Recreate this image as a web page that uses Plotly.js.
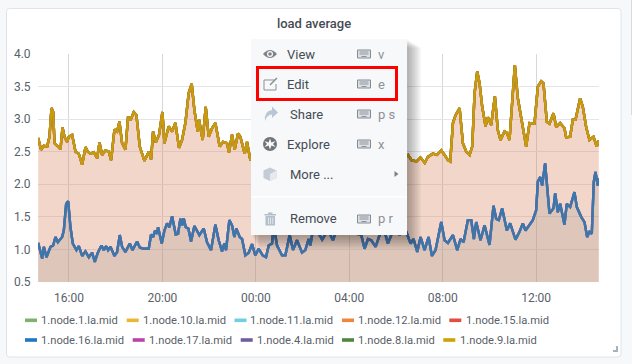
<!DOCTYPE html>
<html>
<head>
<meta charset="utf-8">
<script src="https://cdn.plot.ly/plotly-3.0.1.min.js"></script>
<style>html,body{margin:0;padding:0;background:#f7f8fa;overflow:hidden}#chart{width:632px;height:364px}</style>
</head>
<body>
<div id="chart"></div>
<script>
// ---- data ----
const chartTitle = "load average";
const upperMinutes = [0.4,8,15,23.5,29.5,34.7,39,42.4,51,57.8,62.9,68,74.8,79.2,87.7,96.3,104.8,113.4,121.9,127.9,134.8,143.3,151.9,157.9,164.7,173.3,181.8,187.8,196.4,203.2,209.2,216,224.6,231.4,237.4,246,252.8,261.4,273.4,284.5,290.5,295.6,302.5,311,319.6,324.7,335.8,344.4,352.9,362.3,370,378.6,387.1,394.8,401.7,410.2,413.6,423,430.8,438.5,447,455.6,466.7,475.3,485.5,490.7,498.4,505.2,513.8,519.8,530.9,536.9,545.5,560,580,600,620,640,660,680,700,720,740,760,780,800,820,840,860,880,900,920,940,950.7,959.3,972.1,982.4,993.5,1001.5,1014.3,1024.6,1035.8,1044.3,1052.9,1058.9,1065.8,1072.6,1082.9,1091.4,1100,1108.5,1115.4,1121.4,1128.2,1134.2,1141,1149.6,1155.6,1164.1,1173.5,1181.2,1188,1198.3,1204.3,1211.1,1224.8,1232.5,1241.1,1253.9,1262.5,1275.3,1283.9,1292.5,1298.4,1307,1313.8,1324.1,1331,1341.2,1352.3,1356.6,1366.9,1373.7,1380.6,1392.6,1399.4,1408,1416.5,1426.8,1435.3,1440.4];
const upperLoad = [2.71,2.53,2.59,2.58,2.73,3.17,3.11,2.63,2.58,2.54,2.87,2.73,2.65,2.73,2.76,2.50,2.47,2.30,2.57,2.50,2.47,2.49,2.40,2.64,2.45,2.52,2.50,2.37,2.84,2.81,2.96,2.63,2.53,3.04,2.98,3.11,3.06,2.58,2.36,2.50,2.38,2.81,2.64,2.76,3.11,2.63,2.89,2.81,2.94,2.56,2.68,2.94,3.40,3.54,3.14,2.81,2.99,2.68,3.19,2.73,2.86,2.94,2.58,2.65,2.63,2.49,2.76,2.53,2.78,2.73,2.47,2.65,2.37,2.45,2.6,2.5,2.7,2.5,2.55,2.65,2.45,2.6,2.5,2.55,2.45,2.6,2.5,2.55,2.4,2.5,2.45,2.55,2.4,2.45,2.37,2.35,2.41,2.33,2.42,2.47,2.45,2.52,2.45,2.37,2.35,2.94,3.06,3.17,2.63,2.50,2.45,2.58,3.40,3.73,3.55,3.19,2.89,3.03,2.91,3.35,2.83,2.68,2.81,2.79,2.68,3.83,3.32,3.04,2.58,2.94,2.93,3.50,3.58,3.55,2.96,2.93,3.09,2.88,2.94,2.86,2.72,2.73,2.99,2.99,3.32,3.19,2.88,2.68,2.73,2.58,2.67];
const lowerMinutes = [0.4,10.7,15,21.8,32.1,38.9,44.9,50.9,62,66.3,72.3,77.4,83.4,89.4,98.8,104.8,113.4,121.9,130.5,139,145.9,153.6,163,169,175,180.1,186.1,196.4,203.2,210,216,224.6,235.7,242.6,254.5,261.4,271.6,284.5,290.5,295.6,300.8,305.9,308.4,317.9,324.7,331.5,337.5,344.4,353.8,359.8,365.8,370.9,374.3,379.5,386.3,393.1,401.7,408.5,414.5,425.6,434.2,444.5,455.6,464.1,472.7,478.7,483,491.5,498.4,504.4,509.5,518.1,524.1,532.6,541.2,549.7,558.3,566.9,577.1,585.7,592.6,601.1,605.4,614,626.8,635.4,646.5,655,665.3,678.2,686.7,695.3,699.5,705.5,715,730,745,757.6,770,785,800,815,830.4,838.9,847.5,856.1,867.2,877.4,886,898.8,907.4,917.6,928.7,937.3,945.9,957,964.7,974.1,982.7,993,1003.2,1011.8,1021.2,1035.8,1044.3,1052.9,1065.8,1076.9,1085.4,1093.1,1104.2,1112.8,1119.6,1125.6,1136.7,1147,1159.8,1170,1176.9,1183.7,1192.3,1204.3,1212.8,1226.5,1236.8,1245.3,1252.2,1262.5,1271,1279.6,1283.9,1289.9,1295,1302.6,1309.5,1313.8,1324.1,1328.4,1335.2,1341.2,1352.3,1358.3,1366.9,1378,1384,1395.2,1403.7,1410.6,1416.5,1422.5,1427.7,1431.9,1437.9,1440.4];
const lowerLoad = [1.10,0.86,1.04,0.88,1.04,1.06,1.19,1.11,1.19,1.29,1.70,1.74,1.34,1.09,0.99,1.05,0.90,0.97,0.88,0.95,0.81,0.95,1.06,0.99,1.05,0.99,1.04,0.90,0.96,1.22,1.04,0.96,1.09,0.99,1.12,1.03,1.01,1.01,1.23,1.19,1.29,1.24,1.34,1.09,1.29,1.40,1.34,1.51,1.23,1.24,1.47,1.37,1.48,1.34,1.32,1.12,1.36,1.29,1.22,1.32,1.11,0.99,1.38,1.14,0.97,1.09,0.99,1.45,1.37,1.19,1.32,1.19,1.16,0.91,0.95,1.08,0.91,1.01,0.91,0.88,1.06,1.09,1.37,1.06,0.91,0.91,1.22,0.99,1.14,0.95,0.99,1.16,1.06,1.27,1.30,1.15,1.30,1.14,1.35,1.25,1.40,1.25,1.22,1.01,1.16,1.14,1.04,1.22,1.37,1.09,1.22,1.37,1.22,1.37,1.27,1.09,1.16,0.96,1.19,0.99,1.19,0.90,0.99,1.42,1.14,1.10,1.22,0.99,1.16,1.11,1.45,1.45,1.16,1.42,1.14,1.37,1.07,1.67,1.47,1.45,1.63,1.29,1.40,1.15,1.27,1.40,1.29,1.37,1.45,1.60,2.04,2.11,1.98,2.32,1.91,1.55,1.63,1.86,1.57,1.70,1.38,1.70,1.65,1.88,1.65,1.50,1.42,1.19,1.27,1.24,2.04,2.19,1.98,2.09];
const seriesNames = ["1.node.1.la.mid","1.node.10.la.mid","1.node.11.la.mid","1.node.12.la.mid","1.node.15.la.mid","1.node.16.la.mid","1.node.17.la.mid","1.node.4.la.mid","1.node.8.la.mid","1.node.9.la.mid"];
const upperGroup = ["1.node.1.la.mid","1.node.10.la.mid","1.node.12.la.mid","1.node.15.la.mid","1.node.8.la.mid","1.node.9.la.mid"];
const lowerGroup = ["1.node.11.la.mid","1.node.17.la.mid","1.node.4.la.mid","1.node.16.la.mid"];
const seriesColors = ["#7eb26d","#eab839","#6ed0e0","#ef843c","#e24d42","#1f78c1","#ba43a9","#705da0","#508642","#cca300"];
const menuItems = ["View","Edit","Share","Explore","More ...","Remove"];
const menuKeys = ["v","e","p s","x","","p r"];

// ---- geometry helpers (pixel -> paper) ----
const W=632,H=364,L=38,R=599,T=54,B=282;
const X=p=>(p-L)/(R-L), Y=p=>(B-p)/(B-T);
const pathOf=s=>s.replace(/(-?[\d.]+) (-?[\d.]+)/g,(m,a,b)=>X(+a).toFixed(5)+","+Y(+b).toFixed(5));
const base=Date.UTC(2019,0,1,14,40,24);
const stamp=m=>new Date(base+m*60000).toISOString().slice(0,23).replace("T"," ");

const shapes=[];
const path=(d,fill,line,lw,layer)=>shapes.push({type:"path",xref:"paper",yref:"paper",path:pathOf(d),fillcolor:fill||"rgba(0,0,0,0)",line:{color:line||"rgba(0,0,0,0)",width:lw||0},layer:layer||"above"});
const rect=(x0,y0,x1,y1,fill,line,lw,layer)=>shapes.push({type:"rect",xref:"paper",yref:"paper",x0:X(x0),x1:X(x1),y0:Y(y0),y1:Y(y1),fillcolor:fill||"rgba(0,0,0,0)",line:{color:line||"rgba(0,0,0,0)",width:lw||0},layer:layer||"above"});
const circ=(cx,cy,r,fill,line,lw)=>shapes.push({type:"circle",xref:"paper",yref:"paper",x0:X(cx-r),x1:X(cx+r),y0:Y(cy+r),y1:Y(cy-r),fillcolor:fill||"rgba(0,0,0,0)",line:{color:line||"rgba(0,0,0,0)",width:lw||0},layer:"above"});

// panel card + corner handle + page scrollbar edge
path("M 9.5 8.5 L 618 8.5 Q 621 8.5 621 11.5 L 621 354 Q 621 357 618 357 L 9.5 357 Q 6.5 357 6.5 354 L 6.5 11.5 Q 6.5 8.5 9.5 8.5 Z","#ffffff","#dfe4ec",1,"below");
path("M 613 352 L 618 352 L 618 346 L 616 346 L 616 350 L 613 350 Z","#a9b1ba",null,0,"above");
rect(631,0,632,115,"#d8dade");

// legend swatches + labels
const annotations=[];
const text=(x,y,t,size,color,anchor)=>annotations.push({xref:"paper",yref:"paper",x:X(x),y:Y(y),text:t,showarrow:false,xanchor:anchor||"left",yanchor:"middle",borderpad:0,borderwidth:0,font:{family:"Roboto",size:size,color:color}});
const legendSwatchX=[25,126.7,234.5,342,449.3,25,132.7,240.7,342,443.3];
const legendTextX=[41,142.7,250.3,358,465.7,41,149,256.5,358,459.5];
seriesNames.forEach((n,i)=>{
  const y=i<5?320.3:340;
  rect(legendSwatchX[i],y-1.8,legendSwatchX[i]+12,y+1.8,seriesColors[i]);
  text(legendTextX[i],y,n,11.2,"#5a5f69");
});

// context menu: shadow, body, separator
for(let k=14;k>=1;k-=1.5){rect(251+k*0.6,39+k*0.6,407+k,235+k,"rgba(0,0,0,0.035)");}
rect(251,39,407,235,"#f7f8fa");
rect(251,196,407,197.5,"#ffffff");
rect(257.5,67.5,396.5,99.5,"rgba(0,0,0,0)","#ff0000",3);

const menuY=[54,84,114,144,174,219];
const menuX=[287,287,290,287,290,290];
menuItems.forEach((t,i)=>{
  text(menuX[i],menuY[i],t,13,"#464c54");
  if(menuKeys[i]){
    const y=menuY[i];
    rect(357.5,y-4,370.5,y+4,"#dde1e7","#868b92",1);
    [-2,0].forEach(d=>rect(359.5,y+d-0.5,368.5,y+d+0.5,"#8f949b"));
    rect(361.5,y+2,366.5,y+3,"#8f949b");
    text(378,y,menuKeys[i],13,"#8e9198");
  }
});
// icons
path("M 263 54 Q 270 46 277 54 Q 270 62 263 54 Z","#7f8389");
circ(270,54,3,"#f7f8fa"); circ(270,54,1.8,"#7f8389");
path("M 275 80 L 264 80 L 264 90 L 276 90 L 276 84","rgba(0,0,0,0)","#8b8f95",1);
path("M 270 85 L 277 78","rgba(0,0,0,0)","#8b8f95",1.5);
path("M 265 121 Q 264 111 272 110 L 272 106.5 L 278 112.5 L 272 118 L 272 114.5 Q 267 114.5 265 121 Z","#b9c6d6");
circ(270,144,7,"#707479");
path("M 270 138.5 L 271.4 142.6 L 275.5 141 L 273 144 L 275.5 147 L 271.4 145.6 L 270 149.5 L 268.6 145.6 L 264.5 147 L 267 144 L 264.5 141 L 268.6 142.6 Z","#f7f8fa");
path("M 270 167.5 L 276.5 170.5 L 276.5 178 L 270 181 L 263.5 178 L 263.5 170.5 Z","#c4ccd6");
path("M 270 174 L 276.5 170.5 L 276.5 178 L 270 181 Z","#e6eaef");
rect(265.5,216,275,225.5,"#b3bfcb");
rect(264.5,214,276,215.5,"#b3bfcb");
rect(268,212.5,272.5,214,"#b3bfcb");
[268,270.2,272.4].forEach(x=>rect(x,217.5,x+0.8,224,"#eef1f4"));
path("M 394.5 171 L 398.5 174 L 394.5 177 Z","#7d828a");

const traceFor=(name,xs,ys,lineColor,fill)=>({type:"scatter",mode:"lines",name:name,x:xs.map(stamp),y:ys,line:{color:lineColor,width:2.4,shape:"linear"},fill:fill?"tozeroy":"none",fillcolor:fill||undefined,hoverinfo:"skip",showlegend:false});
const colorOf=n=>seriesColors[seriesNames.indexOf(n)];
const traces=[];
upperGroup.forEach((n,i)=>{const top=i===upperGroup.length-1;traces.push(traceFor(n,upperMinutes,upperLoad,top?"#c99a10":colorOf(n),top?"rgba(212,118,78,0.30)":null));});
lowerGroup.forEach((n,i)=>{const top=i===lowerGroup.length-1;traces.push(traceFor(n,lowerMinutes,lowerLoad,top?"#3b77a9":colorOf(n),top?"rgba(162,150,138,0.25)":null));});

const tickFont={family:"Roboto",size:12,color:"#5a5f69"};
Plotly.newPlot("chart",traces,{
  width:W,height:H,autosize:false,showlegend:false,
  paper_bgcolor:"#f7f8fa",plot_bgcolor:"rgba(0,0,0,0)",
  margin:{l:L,r:W-R,t:T,b:H-B,pad:0},
  title:{text:chartTitle,x:314/W,xanchor:"center",y:1-23/H,yanchor:"middle",font:{family:"Roboto",size:13,weight:500,color:"#464c54"}},
  xaxis:{type:"date",range:[stamp(0),stamp(1441)],tick0:"2019-01-01 16:00:00",dtick:4*3600000,tickformat:"%H:%M",showgrid:true,gridcolor:"#d6d8dc",gridwidth:1,zeroline:false,showline:false,ticks:"outside",ticklen:5,tickcolor:"rgba(0,0,0,0)",tickfont:tickFont},
  yaxis:{range:[0.5,4],tick0:0.5,dtick:0.5,tickformat:".1f",showgrid:true,gridcolor:"#e3e5e8",gridwidth:1,zeroline:false,showline:false,ticks:"outside",ticklen:4,tickcolor:"rgba(0,0,0,0)",tickfont:tickFont},
  shapes:shapes,annotations:annotations
},{staticPlot:true,displayModeBar:false});
</script>
</body>
</html>
